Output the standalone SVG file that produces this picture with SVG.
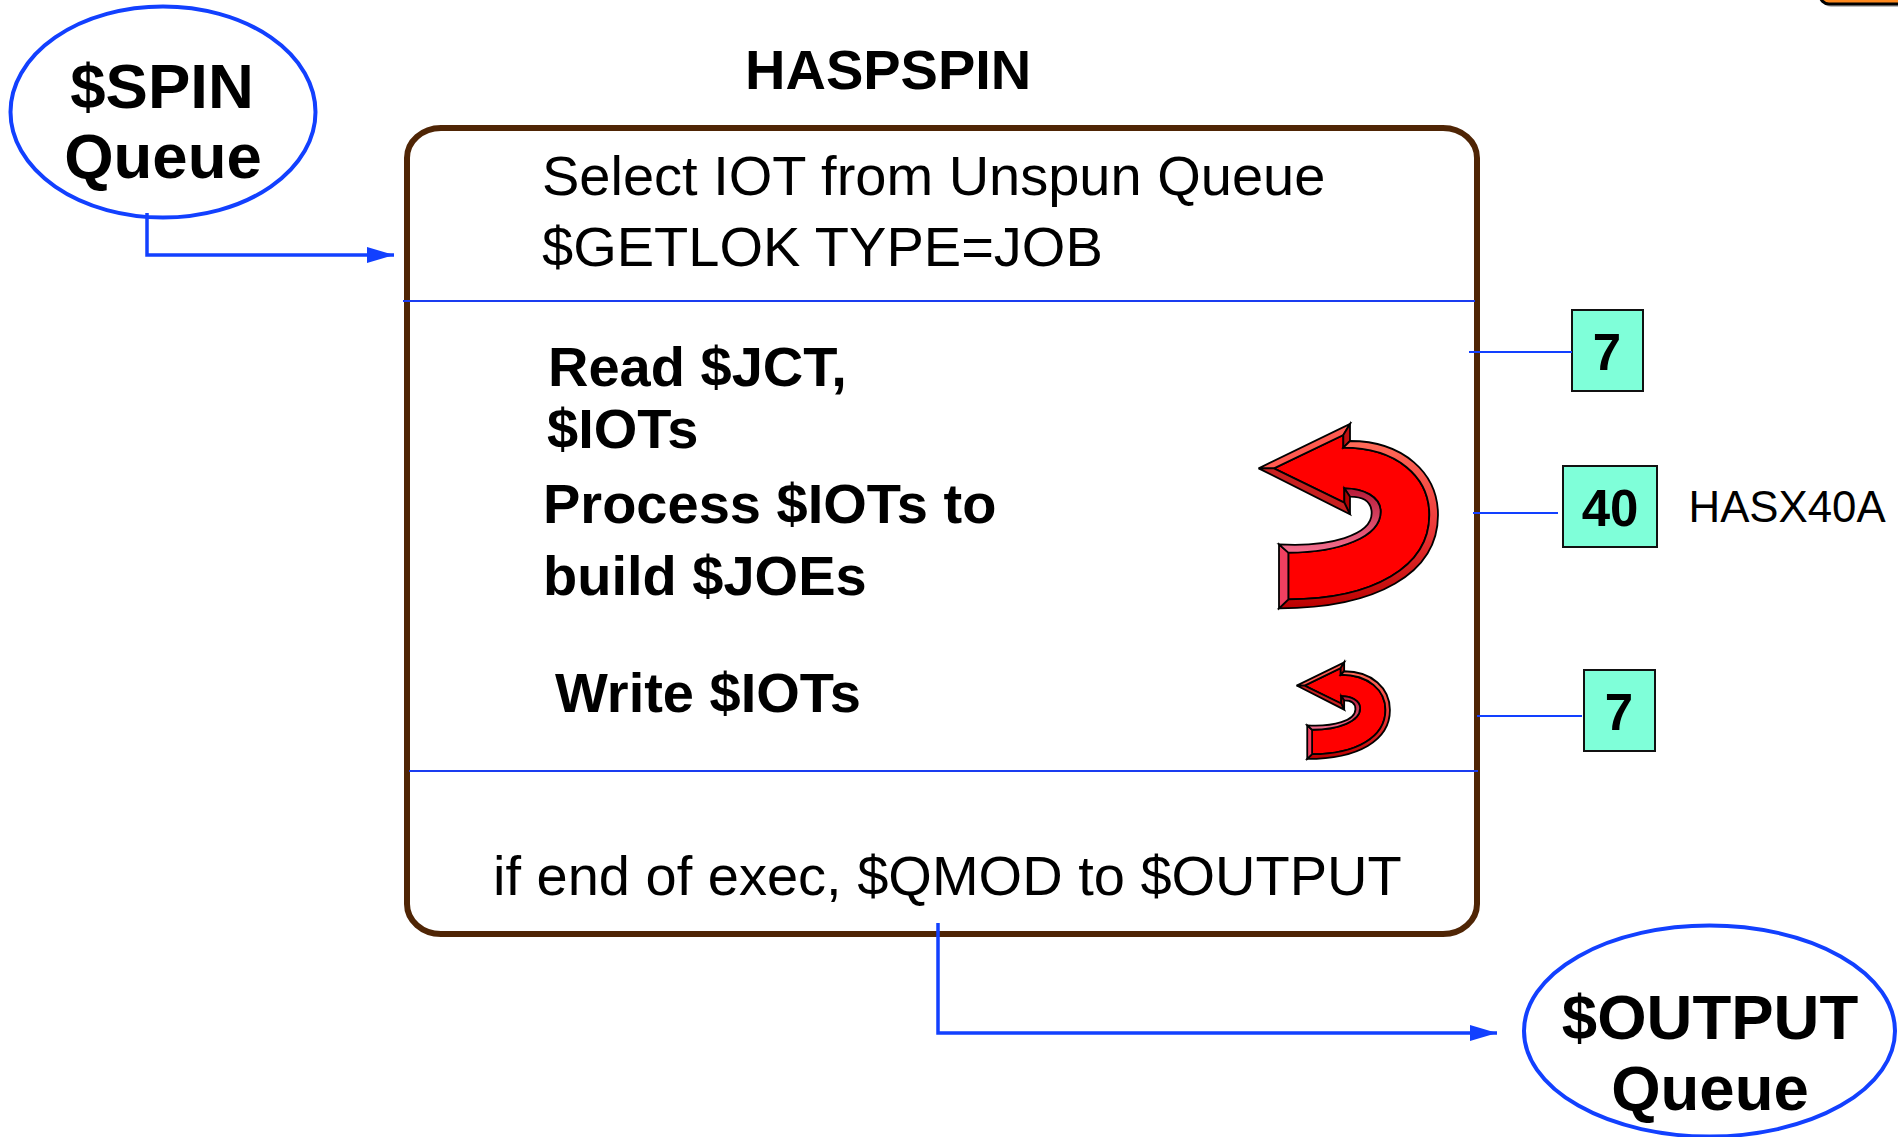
<svg xmlns="http://www.w3.org/2000/svg" xmlns:xlink="http://www.w3.org/1999/xlink" width="1898" height="1137" viewBox="0 0 1898 1137">
<style>
text{font-family:"Liberation Sans",Arial,sans-serif;fill:#000}
.b{font-weight:700}
.q{font-size:63.5px;font-weight:700;text-anchor:middle}
.t{font-size:56px}
.tb{font-size:56px;font-weight:700}
.n{font-size:51px;font-weight:700;text-anchor:middle}
.oval{fill:#fff;stroke:#1240ff;stroke-width:4}
.badge{fill:#7fffd9;stroke:#111;stroke-width:2}
.div{stroke:#1a3cf0;stroke-width:1.8;fill:none}
.lead{stroke:#1240ff;stroke-width:2.2;fill:none}
.conn{stroke:#1240ff;stroke-width:3.5;fill:none}
.bv{stroke:#000;stroke-width:1.8;stroke-linejoin:miter;vector-effect:non-scaling-stroke}
</style>
<defs>
<marker id="ah" markerUnits="userSpaceOnUse" markerWidth="28" markerHeight="18" refX="27" refY="8" orient="auto"><path d="M0,0 L27,8 L0,16 Z" fill="#1240ff"/></marker>
<linearGradient id="gOuter" x1="0" y1="0" x2="0" y2="1"><stop offset="0" stop-color="#ff6a58"/><stop offset=".5" stop-color="#ee3a3a"/><stop offset="1" stop-color="#bb0000"/></linearGradient>
<linearGradient id="gInner" x1="0" y1="0" x2="0" y2="1"><stop offset="0" stop-color="#b81a38"/><stop offset="1" stop-color="#f47090"/></linearGradient>
<g id="uturn">
<path class="bv" fill="#ff0000" d="M222,205 L430,105 L430,143 C590,143 688,230 688,345 C688,500 520,598 265,598 L265,458 C420,458 542,410 542,335 C542,290 490,265 433,265 L433,308 Z"/>
<path class="bv" fill="#ff5a50" d="M176,205 L450,72 L430,105 L222,205 Z"/>
<path class="bv" fill="#c01010" d="M450,72 L450,123 L430,143 L430,105 Z"/>
<path class="bv" fill="url(#gOuter)" d="M450,123 C610,123 714,220 714,345 C714,520 530,625 237,625 L265,598 C520,598 688,500 688,345 C688,230 590,143 430,143 Z"/>
<path class="bv" fill="#f04060" d="M237,433 L265,458 L265,598 L237,625 Z"/>
<path class="bv" fill="url(#gInner)" d="M237,433 C390,442 515,405 515,340 C515,305 490,290 450,290 L433,265 C490,265 542,290 542,335 C542,410 420,458 265,458 Z"/>
<path class="bv" fill="#b00000" d="M450,290 L450,343 L433,308 L433,265 Z"/>
<path class="bv" fill="#c82020" d="M176,205 L222,205 L433,308 L450,343 Z"/>
</g>
</defs>
<rect width="1898" height="1137" fill="#fff"/>
<g id="corner-shape">
<rect x="1822" y="-30" width="100" height="37" rx="9" fill="#bbb"/>
<rect x="1820" y="-30" width="100" height="34" rx="9" fill="#ff8a1e" stroke="#000" stroke-width="3"/>
</g>
<text id="title" class="b" x="745" y="89" font-size="56">HASPSPIN</text>
<g id="box-haspspin">
<rect x="407" y="128" width="1070" height="806" rx="34" ry="30" fill="#fff" stroke="#4f2505" stroke-width="6"/>
<line class="div" x1="403" y1="301" x2="1475" y2="301"/>
<line class="div" x1="409" y1="771" x2="1478" y2="771"/>
<text class="t" x="542" y="195">Select IOT from Unspun Queue</text>
<text class="t" x="542" y="266">$GETLOK TYPE=JOB</text>
<text class="tb" x="548" y="386">Read $JCT,</text>
<text class="tb" x="547" y="448">$IOTs</text>
<text class="tb" x="543" y="523">Process $IOTs to</text>
<text class="tb" x="543" y="595">build $JOEs</text>
<text class="tb" x="555" y="712">Write $IOTs</text>
<text class="t" x="493" y="895">if end of exec, $QMOD to $OUTPUT</text>
</g>
<g id="arrow-large" transform="translate(1200,400) scale(.33333)"><use href="#uturn"/></g>
<g id="arrow-small" transform="translate(1200,400) scale(.33333)"><use href="#uturn" transform="translate(198.5,749.3) scale(.52,.524)"/></g>
<g id="spin-queue">
<ellipse class="oval" cx="163" cy="112" rx="152.500" ry="105.500"/>
<text class="q" x="162" y="108">$SPIN</text>
<text class="q" x="163" y="178">Queue</text>
</g>
<g id="output-queue">
<ellipse class="oval" cx="1709.500" cy="1031" rx="185.500" ry="105.500"/>
<text class="q" x="1710" y="1039">$OUTPUT</text>
<text class="q" x="1710" y="1110">Queue</text>
</g>
<g id="badge-7a">
<rect class="badge" x="1572" y="310" width="71" height="81"/>
<text class="n" x="1607" y="370">7</text>
</g>
<g id="badge-40">
<rect class="badge" x="1563" y="466" width="94" height="81"/>
<text class="n" x="1610" y="526">40</text>
</g>
<text id="label-hasx40a" x="1688.500" y="522" font-size="43.800">HASX40A</text>
<g id="badge-7b">
<rect class="badge" x="1584" y="670" width="71" height="81"/>
<text class="n" x="1619" y="730">7</text>
</g>
<g id="connectors">
<path class="conn" d="M147,213 V255 H394" marker-end="url(#ah)"/>
<path class="conn" d="M938,923 V1033 H1497" marker-end="url(#ah)"/>
<line class="lead" x1="1469" y1="352" x2="1572" y2="352"/>
<line class="lead" x1="1473" y1="513" x2="1558" y2="513"/>
<line class="lead" x1="1477" y1="716" x2="1582" y2="716"/>
</g>
</svg>
